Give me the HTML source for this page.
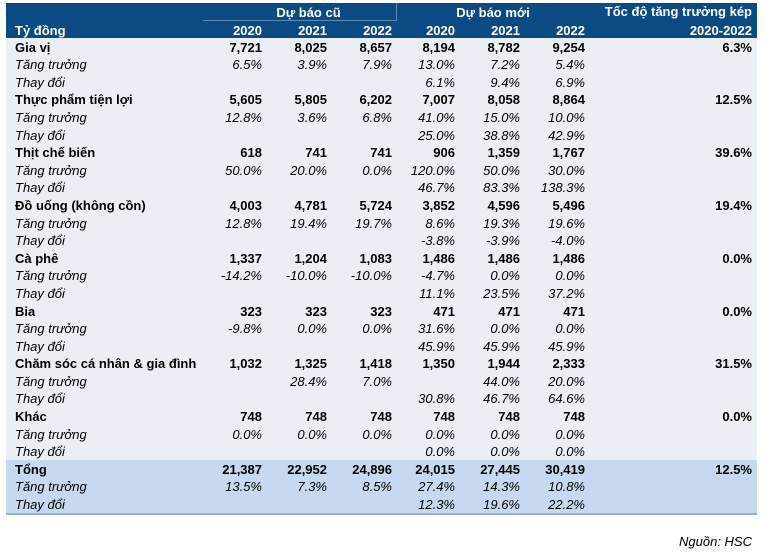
<!DOCTYPE html>
<html><head><meta charset="utf-8"><style>
body{margin:0;background:#fff;width:780px;height:559px;position:relative;font-family:"Liberation Sans",Arial,sans-serif;font-size:13px;color:#000;overflow:hidden}
#hdr{position:absolute;left:6px;top:3px;width:751px;height:35px;background:#0c4a84;color:#fff;font-weight:bold}
#hdr div{position:absolute;white-space:nowrap}
table{position:absolute;left:6px;top:38px;border-collapse:collapse;table-layout:fixed;width:751px;background:#eceef6}
td{height:17.6px;padding:0;text-align:right;white-space:nowrap;line-height:17px;vertical-align:bottom}
td:first-child{text-align:left;padding-left:9px}
tr.b td{font-weight:bold}
tr.i td{font-style:italic}
tr.t td{background:#c6d9f0}
tr.last td{border-bottom:2px solid #95b3d7}
</style></head><body>
<div id="hdr">
<div style="left:215px;top:2px;width:175px;text-align:center">Dự báo cũ</div>
<div style="left:197px;top:17px;width:194px;height:1px;background:#5f88b5"></div>
<div style="left:390px;top:0;width:1px;height:17px;background:#5f88b5"></div>
<div style="left:392px;top:2px;width:190px;text-align:center">Dự báo mới</div>
<div style="right:5px;top:1px">Tốc độ tăng trưởng kép</div>
<div style="left:9px;top:20px">Tỷ đồng</div>
<div style="right:495px;top:20px">2020</div>
<div style="right:430px;top:20px">2021</div>
<div style="right:365px;top:20px">2022</div>
<div style="right:302px;top:20px">2020</div>
<div style="right:237px;top:20px">2021</div>
<div style="right:172px;top:20px">2022</div>
<div style="right:5px;top:20px">2020-2022</div>
</div>
<table>
<colgroup><col style="width:194px"><col style="width:62px"><col style="width:65px"><col style="width:65px"><col style="width:63px"><col style="width:65px"><col style="width:65px"><col style="width:167px"><col style="width:5px"></colgroup>
<tr class="b"><td>Gia vị</td><td>7,721</td><td>8,025</td><td>8,657</td><td>8,194</td><td>8,782</td><td>9,254</td><td>6.3%</td><td></td></tr>
<tr class="i"><td>Tăng trưởng</td><td>6.5%</td><td>3.9%</td><td>7.9%</td><td>13.0%</td><td>7.2%</td><td>5.4%</td><td></td><td></td></tr>
<tr class="i"><td>Thay đổi</td><td></td><td></td><td></td><td>6.1%</td><td>9.4%</td><td>6.9%</td><td></td><td></td></tr>
<tr class="b"><td>Thực phẩm tiện lợi</td><td>5,605</td><td>5,805</td><td>6,202</td><td>7,007</td><td>8,058</td><td>8,864</td><td>12.5%</td><td></td></tr>
<tr class="i"><td>Tăng trưởng</td><td>12.8%</td><td>3.6%</td><td>6.8%</td><td>41.0%</td><td>15.0%</td><td>10.0%</td><td></td><td></td></tr>
<tr class="i"><td>Thay đổi</td><td></td><td></td><td></td><td>25.0%</td><td>38.8%</td><td>42.9%</td><td></td><td></td></tr>
<tr class="b"><td>Thịt chế biến</td><td>618</td><td>741</td><td>741</td><td>906</td><td>1,359</td><td>1,767</td><td>39.6%</td><td></td></tr>
<tr class="i"><td>Tăng trưởng</td><td>50.0%</td><td>20.0%</td><td>0.0%</td><td>120.0%</td><td>50.0%</td><td>30.0%</td><td></td><td></td></tr>
<tr class="i"><td>Thay đổi</td><td></td><td></td><td></td><td>46.7%</td><td>83.3%</td><td>138.3%</td><td></td><td></td></tr>
<tr class="b"><td>Đồ uống (không cồn)</td><td>4,003</td><td>4,781</td><td>5,724</td><td>3,852</td><td>4,596</td><td>5,496</td><td>19.4%</td><td></td></tr>
<tr class="i"><td>Tăng trưởng</td><td>12.8%</td><td>19.4%</td><td>19.7%</td><td>8.6%</td><td>19.3%</td><td>19.6%</td><td></td><td></td></tr>
<tr class="i"><td>Thay đổi</td><td></td><td></td><td></td><td>-3.8%</td><td>-3.9%</td><td>-4.0%</td><td></td><td></td></tr>
<tr class="b"><td>Cà phê</td><td>1,337</td><td>1,204</td><td>1,083</td><td>1,486</td><td>1,486</td><td>1,486</td><td>0.0%</td><td></td></tr>
<tr class="i"><td>Tăng trưởng</td><td>-14.2%</td><td>-10.0%</td><td>-10.0%</td><td>-4.7%</td><td>0.0%</td><td>0.0%</td><td></td><td></td></tr>
<tr class="i"><td>Thay đổi</td><td></td><td></td><td></td><td>11.1%</td><td>23.5%</td><td>37.2%</td><td></td><td></td></tr>
<tr class="b"><td>Bia</td><td>323</td><td>323</td><td>323</td><td>471</td><td>471</td><td>471</td><td>0.0%</td><td></td></tr>
<tr class="i"><td>Tăng trưởng</td><td>-9.8%</td><td>0.0%</td><td>0.0%</td><td>31.6%</td><td>0.0%</td><td>0.0%</td><td></td><td></td></tr>
<tr class="i"><td>Thay đổi</td><td></td><td></td><td></td><td>45.9%</td><td>45.9%</td><td>45.9%</td><td></td><td></td></tr>
<tr class="b"><td>Chăm sóc cá nhân &amp; gia đình</td><td>1,032</td><td>1,325</td><td>1,418</td><td>1,350</td><td>1,944</td><td>2,333</td><td>31.5%</td><td></td></tr>
<tr class="i"><td>Tăng trưởng</td><td></td><td>28.4%</td><td>7.0%</td><td></td><td>44.0%</td><td>20.0%</td><td></td><td></td></tr>
<tr class="i"><td>Thay đổi</td><td></td><td></td><td></td><td>30.8%</td><td>46.7%</td><td>64.6%</td><td></td><td></td></tr>
<tr class="b"><td>Khác</td><td>748</td><td>748</td><td>748</td><td>748</td><td>748</td><td>748</td><td>0.0%</td><td></td></tr>
<tr class="i"><td>Tăng trưởng</td><td>0.0%</td><td>0.0%</td><td>0.0%</td><td>0.0%</td><td>0.0%</td><td>0.0%</td><td></td><td></td></tr>
<tr class="i"><td>Thay đổi</td><td></td><td></td><td></td><td>0.0%</td><td>0.0%</td><td>0.0%</td><td></td><td></td></tr>
<tr class="b t"><td>Tổng</td><td>21,387</td><td>22,952</td><td>24,896</td><td>24,015</td><td>27,445</td><td>30,419</td><td>12.5%</td><td></td></tr>
<tr class="i t"><td>Tăng trưởng</td><td>13.5%</td><td>7.3%</td><td>8.5%</td><td>27.4%</td><td>14.3%</td><td>10.8%</td><td></td><td></td></tr>
<tr class="i t last"><td>Thay đổi</td><td></td><td></td><td></td><td>12.3%</td><td>19.6%</td><td>22.2%</td><td></td><td></td></tr>
</table>
<div style="position:absolute;right:28px;top:534px;font-style:italic">Nguồn: HSC</div>
</body></html>
